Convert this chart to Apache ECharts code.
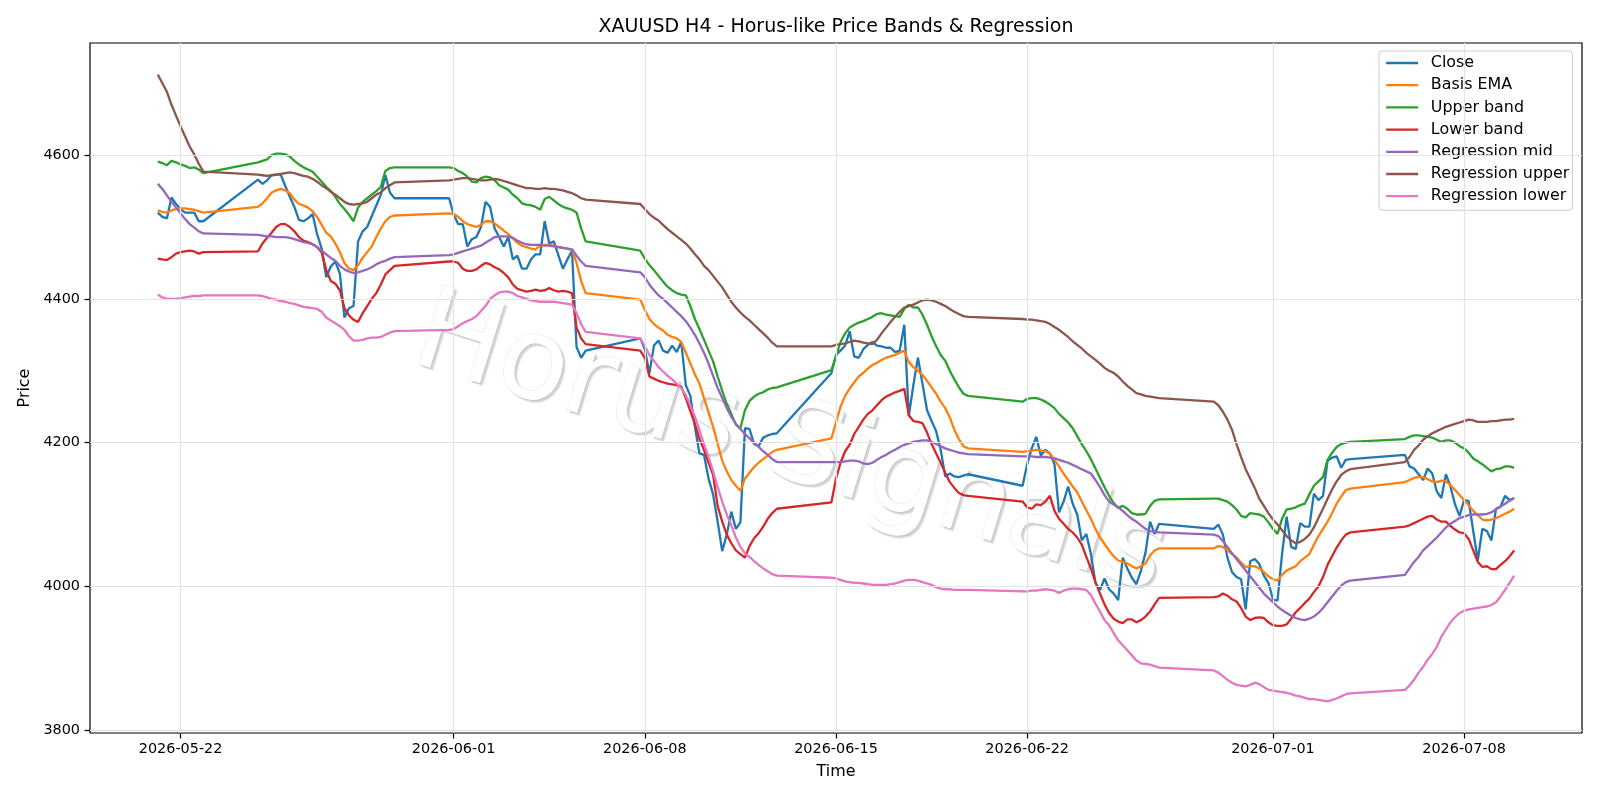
<!DOCTYPE html>
<html>
<head>
<meta charset="utf-8">
<title>XAUUSD H4 - Horus-like Price Bands & Regression</title>
<script src="https://cdn.jsdelivr.net/npm/echarts@6/dist/echarts.min.js"></script>
<style>
  html, body { margin: 0; padding: 0; background: #fff; }
  #chart { width: 1600px; height: 800px; }
</style>
</head>
<body>
<div id="chart"></div>
<script>
// === DONNEES (bougies H4) ===
// jours de cotation ; le dimanche n'a qu'une bougie (20h), le premier jour commence a 4h
const tradingDays = [
    "2026-05-21", "2026-05-22",
    "2026-05-24", "2026-05-25", "2026-05-26", "2026-05-27", "2026-05-28", "2026-05-29",
    "2026-05-31", "2026-06-01", "2026-06-02", "2026-06-03", "2026-06-04", "2026-06-05",
    "2026-06-07", "2026-06-08", "2026-06-09", "2026-06-10", "2026-06-11", "2026-06-12",
    "2026-06-14", "2026-06-15", "2026-06-16", "2026-06-17", "2026-06-18", "2026-06-19",
    "2026-06-21", "2026-06-22", "2026-06-23", "2026-06-24", "2026-06-25", "2026-06-26",
    "2026-06-28", "2026-06-29", "2026-06-30", "2026-07-01", "2026-07-02", "2026-07-03",
    "2026-07-05", "2026-07-06", "2026-07-07", "2026-07-08", "2026-07-09"
];
const barHours = [0, 4, 8, 12, 16, 20];
const firstDayHours = [4, 8, 12, 16, 20];
const sundayHours = [20];

const closePrices = [
    4520, 4514, 4512, 4541, 4532, 4525, 4520, 4520, 4520, 4508, 4508,
    4566, 4560, 4565, 4572, 4573, 4573, 4557, 4542, 4528, 4510, 4508, 4512, 4518, 4490, 4470, 4430, 4445, 4452, 4435, 4374, 4387, 4390, 4480, 4494, 4500, 4515, 4530, 4545, 4572, 4548, 4540,
    4540, 4517, 4504, 4504, 4473, 4483, 4486, 4500, 4535, 4528, 4498, 4486, 4473, 4486, 4455, 4460, 4442, 4442, 4455, 4462, 4462, 4508, 4477, 4480, 4461, 4442, 4455, 4467, 4333, 4318, 4328,
    4345, 4330, 4296, 4335, 4342, 4328, 4325, 4335, 4326, 4340, 4280, 4265, 4222, 4185, 4183, 4150, 4128, 4090, 4049, 4072, 4104, 4080, 4089, 4220, 4219, 4198, 4195, 4207, 4210, 4212, 4213,
    4297, 4322, 4328, 4335, 4355, 4320, 4318, 4330, 4336, 4340, 4335, 4334, 4332, 4332, 4326, 4328, 4364, 4237, 4280, 4318, 4282, 4245, 4230, 4216, 4190, 4153, 4157, 4153, 4152, 4154, 4156,
    4140, 4170, 4192, 4208, 4182, 4190, 4185, 4170, 4103, 4118, 4139, 4115, 4100, 4064, 4073, 4045, 4005, 3995, 4011, 3996, 3990, 3981, 4040, 4025, 4012, 4003, 4022, 4047, 4090, 4073, 4087,
    4080, 4086, 4072, 4040, 4020, 4013, 4010, 3968, 4035, 4038, 4031, 4015, 4005, 3982, 3980, 4045, 4097, 4055, 4052, 4088, 4083, 4083, 4129, 4120, 4126, 4175, 4179, 4181, 4165, 4176, 4177,
    4183, 4167, 4164, 4156, 4148, 4164, 4157, 4132, 4123, 4156, 4139, 4114, 4098, 4120, 4119, 4077, 4036, 4080, 4077, 4064, 4108, 4111, 4126, 4120, 4123
];
const basisEma = [
    4523, 4521, 4520, 4523, 4525, 4526, 4526, 4525, 4524, 4522, 4520,
    4528, 4533, 4540, 4548, 4551, 4553, 4551, 4547, 4538, 4532, 4530, 4527, 4522, 4514, 4503, 4492, 4487, 4477, 4465, 4450, 4442, 4440, 4447, 4457, 4465, 4473, 4486, 4498, 4508, 4514, 4516,
    4519, 4518, 4514, 4508, 4504, 4502, 4500, 4503, 4508, 4508, 4505, 4500, 4495, 4490, 4484, 4478, 4474, 4472, 4470, 4469, 4474, 4475, 4475, 4474, 4472, 4471, 4470, 4468, 4450, 4425, 4408,
    4399, 4385, 4372, 4365, 4360, 4356, 4350, 4347, 4345, 4340, 4325, 4310, 4295, 4282, 4262, 4242, 4222, 4198, 4175, 4160, 4148, 4140, 4133, 4150, 4158, 4166, 4172, 4177, 4182, 4187, 4190,
    4206, 4228, 4250, 4265, 4275, 4284, 4292, 4297, 4303, 4308, 4311, 4315, 4318, 4320, 4322, 4325, 4328, 4312, 4305, 4300, 4294, 4286, 4277, 4268, 4257, 4248, 4235, 4218, 4205, 4195, 4192,
    4187, 4188, 4189, 4190, 4189, 4188, 4185, 4176, 4167, 4157, 4148, 4139, 4131, 4118, 4106, 4094, 4080, 4068, 4059, 4050, 4042, 4036, 4034, 4032, 4028, 4025, 4028, 4032, 4043, 4050, 4053,
    4053, 4056, 4055, 4050, 4045, 4040, 4033, 4027, 4028, 4028, 4025, 4020, 4014, 4010, 4008, 4016, 4022, 4025, 4028, 4035, 4040, 4045, 4058, 4070, 4080, 4090, 4102, 4115, 4125, 4134, 4136,
    4145, 4148, 4151, 4152, 4152, 4149, 4146, 4145, 4147, 4146, 4141, 4134, 4127, 4120, 4113, 4105, 4099, 4093, 4092, 4093, 4095, 4098, 4101, 4104, 4108
];
const upperBand = [
    4591, 4589, 4586, 4592, 4590, 4587, 4585, 4582, 4583, 4580, 4575,
    4590, 4592, 4594, 4600, 4602, 4602, 4601, 4598, 4592, 4587, 4583, 4580, 4577, 4570, 4563, 4556, 4550, 4542, 4532, 4525, 4517, 4508, 4527, 4535, 4540, 4545, 4550, 4556, 4578, 4582, 4583,
    4583, 4582, 4578, 4575, 4570, 4563, 4562, 4568, 4570, 4569, 4565, 4558, 4555, 4552, 4545, 4540, 4533, 4531, 4530, 4528, 4524, 4539, 4542, 4537, 4532, 4528, 4526, 4524, 4520, 4498, 4480,
    4467, 4456, 4447, 4440, 4432, 4424, 4417, 4412, 4408, 4406, 4405, 4390, 4372, 4358, 4343, 4328, 4313, 4292, 4272, 4254, 4240, 4225, 4220, 4245, 4258, 4264, 4268, 4270, 4274, 4276, 4277,
    4301, 4320, 4340, 4352, 4360, 4364, 4367, 4369, 4372, 4375, 4379, 4380, 4378, 4377, 4376, 4375, 4386, 4392, 4388, 4388, 4378, 4364, 4348, 4334, 4322, 4314, 4300, 4288, 4277, 4268, 4265,
    4257, 4261, 4262, 4262, 4260, 4257, 4253, 4248, 4240, 4234, 4228, 4220, 4209, 4198, 4188, 4177, 4164, 4151, 4138, 4126, 4116, 4109, 4112, 4108, 4102, 4100, 4100, 4101, 4112, 4119, 4121,
    4122, 4122, 4120, 4118, 4113, 4107, 4098, 4096, 4102, 4101, 4100, 4097, 4089, 4080, 4073, 4094, 4107, 4108, 4110, 4113, 4115, 4128, 4140, 4146, 4152, 4176, 4186, 4194, 4198, 4200, 4201,
    4205, 4208, 4210, 4210, 4209, 4208, 4207, 4204, 4201, 4203, 4203, 4200, 4195, 4192, 4186, 4178, 4174, 4170, 4165, 4160, 4163, 4164, 4167, 4167, 4165
];
const lowerBand = [
    4456, 4455, 4454, 4458, 4463, 4465, 4466, 4467, 4466, 4463, 4465,
    4466, 4477, 4485, 4492, 4500, 4504, 4504, 4500, 4494, 4486, 4481, 4479, 4476, 4472, 4465, 4440, 4425, 4421, 4412, 4387, 4377, 4371, 4368, 4380, 4390, 4400, 4408, 4420, 4434, 4440, 4446,
    4452, 4452, 4450, 4442, 4439, 4439, 4441, 4446, 4450, 4448, 4444, 4441, 4436, 4430, 4420, 4414, 4412, 4410, 4411, 4413, 4411, 4412, 4415, 4412, 4410, 4411, 4410, 4408, 4360, 4345, 4337,
    4328, 4318, 4292, 4289, 4286, 4284, 4282, 4281, 4280, 4278, 4262, 4244, 4226, 4205, 4190, 4172, 4155, 4112, 4090, 4072, 4060, 4050, 4045, 4040, 4056, 4067, 4074, 4083, 4094, 4102, 4108,
    4117, 4150, 4172, 4188, 4197, 4212, 4222, 4232, 4240, 4245, 4252, 4259, 4264, 4267, 4270, 4272, 4275, 4238, 4230, 4229, 4227, 4214, 4198, 4185, 4172, 4158, 4145, 4137, 4130, 4127, 4126,
    4118, 4110, 4108, 4114, 4113, 4118, 4126, 4105, 4094, 4087, 4080, 4075, 4068, 4058, 4041, 4025, 4006, 3990, 3975, 3963, 3955, 3951, 3949, 3954, 3954, 3950, 3953, 3958, 3965, 3975, 3984,
    3985, 3986, 3990, 3987, 3982, 3979, 3970, 3958, 3953, 3956, 3957, 3956, 3950, 3946, 3945, 3945, 3947, 3955, 3964, 3970, 3977, 3983, 3992, 4000, 4013, 4030, 4042, 4054, 4064, 4072, 4075,
    4083, 4085, 4088, 4091, 4094, 4097, 4098, 4093, 4090, 4090, 4084, 4079, 4075, 4074, 4066, 4050, 4034, 4027, 4028, 4024, 4024, 4030, 4035, 4042, 4050
];
const regMid = [
    4560, 4553, 4544, 4535, 4527, 4519, 4511, 4504, 4499, 4494, 4491,
    4489, 4488, 4487, 4487, 4486, 4486, 4486, 4485, 4483, 4481, 4479, 4478, 4476, 4472, 4467, 4462, 4457, 4453, 4446, 4441, 4438, 4436, 4437, 4439, 4441, 4444, 4448, 4451, 4453, 4456, 4458,
    4461, 4462, 4464, 4466, 4468, 4470, 4472, 4474, 4478, 4482, 4486, 4487, 4487, 4487, 4485, 4481, 4478, 4476, 4475, 4475, 4475, 4474, 4474, 4473, 4472, 4471, 4470, 4469, 4460, 4452, 4446,
    4437, 4430, 4420, 4412, 4405, 4400, 4394, 4388, 4382, 4376, 4369, 4360, 4350, 4338, 4325, 4310, 4293, 4276, 4262, 4248, 4236, 4226, 4219, 4212, 4206, 4200, 4194, 4188, 4183, 4177, 4173,
    4173, 4173, 4173, 4174, 4175, 4175, 4174, 4171, 4170, 4172, 4176, 4180, 4183, 4187, 4190, 4194, 4197, 4199, 4201, 4202, 4203, 4203, 4201, 4198, 4195, 4192, 4190, 4188, 4186, 4185, 4184,
    4181, 4181, 4181, 4180, 4180, 4180, 4179, 4178, 4176, 4174, 4172, 4169, 4166, 4163, 4160, 4157, 4148, 4138, 4127, 4118, 4114, 4110, 4105, 4099, 4094, 4090, 4085, 4080, 4077, 4076, 4075,
    4072, 4070, 4063, 4055, 4046, 4038, 4030, 4022, 4014, 4006, 3998, 3990, 3984, 3978, 3972, 3967, 3963, 3959, 3956, 3954, 3953, 3955, 3958, 3963, 3970, 3978, 3986, 3994, 4001, 4006, 4008,
    4016, 4025, 4034, 4041, 4050, 4056, 4062, 4068, 4075, 4082, 4087, 4091, 4095, 4097, 4099, 4100, 4100, 4100, 4101, 4103, 4107, 4111, 4115, 4119, 4123
];
const regUpper = [
    4712, 4700, 4688, 4670, 4655, 4640, 4626, 4612, 4601, 4588, 4577,
    4573, 4572, 4571, 4572, 4573, 4574, 4575, 4576, 4575, 4573, 4571, 4570, 4567, 4563, 4558, 4554, 4549, 4545, 4540, 4535, 4532, 4531, 4532, 4533, 4535, 4540, 4545, 4548, 4554, 4558, 4562,
    4565, 4566, 4567, 4568, 4568, 4567, 4566, 4565, 4565, 4566, 4567, 4566, 4564, 4562, 4560, 4558, 4556, 4554, 4554, 4553, 4553, 4554, 4553, 4553, 4552, 4551, 4549, 4547, 4544, 4540, 4538,
    4532, 4525, 4518, 4513, 4509, 4503, 4497, 4492, 4487, 4482, 4477, 4470, 4462, 4455, 4446, 4440, 4432, 4424, 4416, 4406, 4396, 4388, 4381, 4375, 4370, 4364, 4358, 4352, 4346, 4339, 4334,
    4334, 4336, 4337, 4338, 4340, 4342, 4341, 4339, 4338, 4337, 4343, 4352, 4360, 4368, 4375, 4382, 4388, 4390, 4392, 4395, 4398, 4399, 4398, 4396, 4393, 4390, 4386, 4382, 4379, 4376, 4375,
    4372, 4371, 4371, 4370, 4369, 4368, 4365, 4361, 4357, 4352, 4347, 4341, 4336, 4331, 4325, 4320, 4315, 4310, 4304, 4300, 4297, 4292, 4285, 4279, 4274, 4269, 4267, 4265, 4264, 4263, 4262,
    4257, 4252, 4243, 4232, 4218, 4198, 4180, 4163, 4150, 4137, 4122, 4112, 4102, 4093, 4086, 4078, 4070, 4064, 4060, 4062, 4066, 4072, 4082, 4095, 4108, 4122, 4135, 4146, 4155, 4160, 4163,
    4173, 4180, 4190, 4196, 4204, 4209, 4213, 4216, 4219, 4222, 4224, 4226, 4228, 4230, 4232, 4231, 4229, 4229, 4229, 4230, 4230, 4231, 4232, 4232, 4233
];
const regLower = [
    4406, 4402, 4400, 4400, 4400, 4401, 4402, 4403, 4404, 4404, 4405,
    4405, 4404, 4402, 4400, 4399, 4397, 4396, 4394, 4393, 4391, 4389, 4388, 4387, 4386, 4382, 4374, 4370, 4366, 4362, 4357, 4348, 4342, 4342, 4343, 4345, 4346, 4346, 4347, 4350, 4353, 4355,
    4357, 4358, 4362, 4366, 4369, 4372, 4376, 4383, 4390, 4400, 4405, 4409, 4410, 4410, 4408, 4404, 4402, 4400, 4398, 4397, 4396, 4396, 4396, 4396, 4395, 4394, 4393, 4392, 4380, 4365, 4354,
    4345, 4334, 4322, 4314, 4305, 4299, 4293, 4288, 4282, 4276, 4266, 4252, 4236, 4217, 4198, 4180, 4160, 4138, 4118, 4100, 4085, 4068, 4055, 4046, 4041, 4035, 4030, 4025, 4021, 4017, 4015,
    4012, 4011, 4009, 4007, 4006, 4005, 4005, 4004, 4003, 4002, 4002, 4002, 4002, 4003, 4004, 4006, 4008, 4009, 4009, 4008, 4006, 4004, 4002, 3999, 3997, 3996, 3996, 3995, 3995, 3995, 3995,
    3993, 3993, 3994, 3994, 3995, 3996, 3995, 3994, 3991, 3994, 3996, 3997, 3997, 3996, 3995, 3988, 3976, 3965, 3953, 3946, 3935, 3925, 3918, 3911, 3904, 3897, 3893, 3892, 3891, 3889, 3887,
    3883, 3880, 3875, 3870, 3866, 3863, 3862, 3861, 3863, 3866, 3864, 3860, 3856, 3855, 3854, 3853, 3852, 3850, 3848, 3847, 3845, 3843, 3843, 3842, 3841, 3840, 3842, 3844, 3847, 3850, 3851,
    3856, 3862, 3870, 3880, 3888, 3898, 3906, 3916, 3930, 3940, 3950, 3957, 3963, 3966, 3968, 3969, 3970, 3971, 3972, 3974, 3978, 3986, 3995, 4005, 4015
];

const seriesNames = ["Close", "Basis EMA", "Upper band", "Lower band", "Regression mid", "Regression upper", "Regression lower"];
const seriesColors = ["#1f77b4", "#ff7f0e", "#2ca02c", "#d62728", "#9467bd", "#8c564b", "#e377c2"];
const xTickDates = ["2026-05-22", "2026-06-01", "2026-06-08", "2026-06-15", "2026-06-22", "2026-07-01", "2026-07-08"];
const yTickValues = [3800, 4000, 4200, 4400, 4600];
const yRange = [3796, 4756];

// === HORODATAGE DES BOUGIES ===
function utc(day, hour) {
    const [y, m, d] = day.split("-").map(Number);
    return Date.UTC(y, m - 1, d, hour);
}

const barTimes = [];
tradingDays.forEach((day, i) => {
    const weekday = new Date(utc(day, 0)).getUTCDay();
    let hours = barHours;
    if (i === 0) hours = firstDayHours;
    else if (weekday === 0) hours = sundayHours;
    hours.forEach(h => barTimes.push(utc(day, h)));
});

// marge de 5 % comme matplotlib
const span = barTimes[barTimes.length - 1] - barTimes[0];
const xMin = barTimes[0] - span * 0.05;
const xMax = barTimes[barTimes.length - 1] + span * 0.05;
const xTicks = xTickDates.map(d => utc(d, 0));

const FONT = "DejaVu Sans";

// === GRAPHIQUE ===
const chart = echarts.init(document.getElementById("chart"), null, { renderer: "canvas" });

const valueSets = [closePrices, basisEma, upperBand, lowerBand, regMid, regUpper, regLower];
const lineSeries = valueSets.map((vals, k) => ({
    name: seriesNames[k],
    type: "line",
    data: barTimes.map((t, i) => [t, vals[i]]),
    showSymbol: false,
    symbol: "none",
    z: 3,
    lineStyle: { color: seriesColors[k], width: 2.3 },
    itemStyle: { color: seriesColors[k] },
    emphasis: { disabled: true }
}));

// lignes de grille (matplotlib grid)
const gridSeries = {
    name: "_grid",
    type: "line",
    data: [],
    z: 1,
    silent: true,
    markLine: {
        silent: true,
        symbol: "none",
        animation: false,
        label: { show: false },
        lineStyle: { color: "#e3e3e3", width: 1.2, type: "solid" },
        data: [
            ...yTickValues.map(v => ({ yAxis: v })),
            ...xTicks.map(t => ({ xAxis: t }))
        ]
    }
};

const option = {
    animation: false,
    backgroundColor: "#ffffff",
    textStyle: { fontFamily: FONT },
    title: {
        text: "XAUUSD H4 - Horus-like Price Bands & Regression",
        left: 836,
        textAlign: "center",
        top: 18,
        padding: 0,
        textStyle: { fontFamily: FONT, fontSize: 19, fontWeight: "normal", color: "#000" }
    },
    legend: {
        data: seriesNames,
        orient: "vertical",
        left: 1379,
        top: 51,
        padding: [4, 3, 6, 6],
        itemWidth: 32,
        itemHeight: 14,
        itemGap: 6.2,
        backgroundColor: "rgba(255,255,255,0.8)",
        borderColor: "#cccccc",
        borderWidth: 1,
        borderRadius: 3,
        selectedMode: false,
        itemStyle: { opacity: 0 },
        lineStyle: { width: 2.3 },
        textStyle: { fontFamily: FONT, fontSize: 15.9, color: "#000", lineHeight: 16, padding: [0, 0, 0, 7.7] }
    },
    graphic: [{
        type: "text",
        z: 0,
        silent: true,
        x: 790,
        y: 448,
        rotation: -0.3,
        style: {
            text: "Horus Signals",
            fontFamily: FONT,
            fontSize: 114,
            fill: "#ffffff",
            stroke: "rgba(0,0,0,0.11)",
            lineWidth: 1,
            align: "center",
            verticalAlign: "middle",
            textShadowColor: "rgba(0,0,0,0.18)",
            textShadowBlur: 1.5,
            textShadowOffsetX: 2.5,
            textShadowOffsetY: 2.5
        }
    }],
    grid: {
        left: 90,
        top: 43,
        width: 1492,
        height: 690,
        show: true,
        borderColor: "#000",
        borderWidth: 1.2,
        backgroundColor: "transparent"
    },
    xAxis: {
        type: "value",
        min: xMin,
        max: xMax,
        name: "Time",
        nameLocation: "middle",
        nameGap: 31,
        nameTextStyle: { fontFamily: FONT, fontSize: 15.9, color: "#000" },
        axisLine: { show: false },
        axisTick: { show: true, customValues: xTicks, length: 5.5, lineStyle: { color: "#000", width: 1.2 } },
        axisLabel: {
            customValues: xTicks,
            margin: 9,
            fontFamily: FONT,
            fontSize: 14.4,
            color: "#000",
            formatter: v => new Date(v).toISOString().slice(0, 10)
        },
        splitLine: { show: false }
    },
    yAxis: {
        type: "value",
        min: yRange[0],
        max: yRange[1],
        name: "Price",
        nameLocation: "middle",
        nameRotate: 90,
        nameGap: 53,
        nameTextStyle: { fontFamily: FONT, fontSize: 15.9, color: "#000" },
        axisLine: { show: false },
        axisTick: { show: true, customValues: yTickValues, length: 5.5, lineStyle: { color: "#000", width: 1.2 } },
        axisLabel: {
            customValues: yTickValues,
            margin: 10,
            fontFamily: FONT,
            fontSize: 14.4,
            color: "#000",
            formatter: v => String(v)
        },
        splitLine: { show: false }
    },
    series: [gridSeries, ...lineSeries]
};

chart.setOption(option);
window.addEventListener("resize", () => chart.resize());
</script>
</body>
</html>
